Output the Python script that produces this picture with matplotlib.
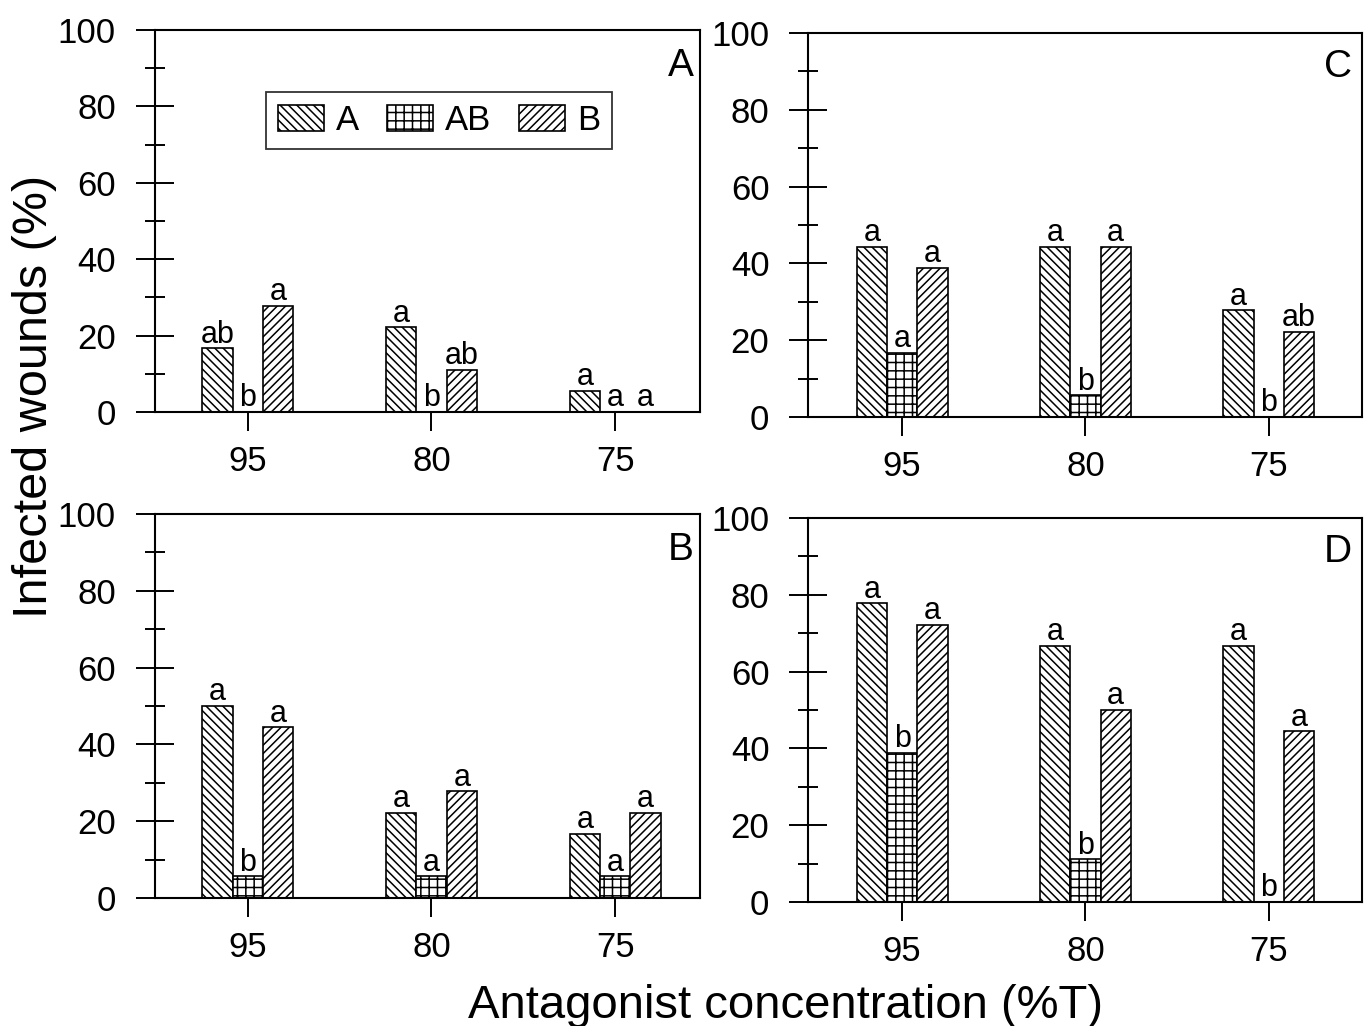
from matplotlib import pyplot as plt
import numpy as np

plt.rcParams['font.family'] = ['Liberation Sans', 'DejaVu Sans']
plt.rcParams['hatch.linewidth'] = 1.1

# concentrations on the x axis
groups = ['95', '80', '75']
series = ['A', 'AB', 'B']

# panel A
pA_A = [16.7, 22.2, 5.6]
pA_AB = [0, 0, 0]
pA_B = [27.8, 11.1, 0]
pA_letters = [['ab', 'a', 'a'], ['b', 'b', 'a'], ['a', 'ab', 'a']]

# panel B
pB_A = [50.0, 22.2, 16.7]
pB_AB = [5.6, 5.6, 5.6]
pB_B = [44.4, 27.8, 22.2]
pB_letters = [['a', 'a', 'a'], ['b', 'a', 'a'], ['a', 'a', 'a']]

# panel C
pC_A = [44.4, 44.4, 27.8]
pC_AB = [16.7, 5.6, 0]
pC_B = [38.9, 44.4, 22.2]
pC_letters = [['a', 'a', 'a'], ['a', 'b', 'b'], ['a', 'a', 'ab']]

# panel D
pD_A = [77.8, 66.7, 66.7]
pD_AB = [38.9, 11.1, 0]
pD_B = [72.2, 50.0, 44.4]
pD_letters = [['a', 'a', 'a'], ['b', 'b', 'b'], ['a', 'a', 'a']]

hatches = ['\\\\\\\\', '++', '////']


def draw_panel(ax, a, ab, b, letters, name, xlim, name_pos):
    x = np.arange(len(groups))
    w = 0.165
    for k, vals in enumerate([a, ab, b]):
        bars = ax.bar(x + (k - 1) * w, vals, w, color='white', edgecolor='black',
                      hatch=hatches[k], linewidth=1.2, label=series[k])
        for bar, lab in zip(bars, letters[k]):
            ax.annotate(lab, (bar.get_x() + bar.get_width() / 2, bar.get_height()),
                        xytext=(0, 4), textcoords='offset points',
                        ha='center', va='baseline', fontsize=22)
    ax.set_xlim(xlim)
    ax.set_ylim(0, 100)
    ax.set_xticks(x)
    ax.set_xticklabels(groups)
    ax.set_yticks(range(0, 101, 20))
    ax.set_yticks(range(10, 100, 20), minor=True)
    ax.tick_params(axis='y', which='major', direction='inout', length=28, width=1.4,
                   pad=14, labelsize=25)
    ax.tick_params(axis='y', which='minor', direction='inout', length=14, width=1.4)
    ax.tick_params(axis='x', which='major', direction='out', length=14, width=1.4,
                   pad=10, labelsize=25)
    for s in ax.spines.values():
        s.set_linewidth(1.5)
    ax.text(name_pos[0], name_pos[1], name, transform=ax.transAxes,
            ha='right', va='top', fontsize=28)


fig = plt.figure(figsize=(13.7, 10.26))

axA = fig.add_axes([0.113, 0.5984, 0.398, 0.3724])
axC = fig.add_axes([0.590, 0.5936, 0.404, 0.3742])
axB = fig.add_axes([0.113, 0.1248, 0.398, 0.3742])
axD = fig.add_axes([0.590, 0.1209, 0.404, 0.3742])

draw_panel(axA, pA_A, pA_AB, pA_B, pA_letters, 'A', (-0.507, 2.463), (0.989, 0.953))
draw_panel(axB, pB_A, pB_AB, pB_B, pB_letters, 'B', (-0.507, 2.463), (0.989, 0.953))
draw_panel(axC, pC_A, pC_AB, pC_B, pC_letters, 'C', (-0.512, 2.507), (0.982, 0.958))
draw_panel(axD, pD_A, pD_AB, pD_B, pD_letters, 'D', (-0.512, 2.507), (0.982, 0.958))

leg = axA.legend(loc='center', bbox_to_anchor=(0.521, 0.763), ncol=3, fontsize=25,
                 frameon=True, fancybox=False, handlelength=1.32, handleheight=0.75,
                 handletextpad=0.35, columnspacing=0.8, borderpad=0.35)
leg.get_frame().set_edgecolor('black')
leg.get_frame().set_linewidth(1.3)

fig.text(0.0255, 0.614, 'Infected wounds (%)', rotation=90, ha='center', va='center',
         fontsize=35)
fig.text(0.573, 0.008, 'Antagonist concentration (%T)', ha='center', va='baseline',
         fontsize=34)

fig.savefig('out.png', dpi=100)
